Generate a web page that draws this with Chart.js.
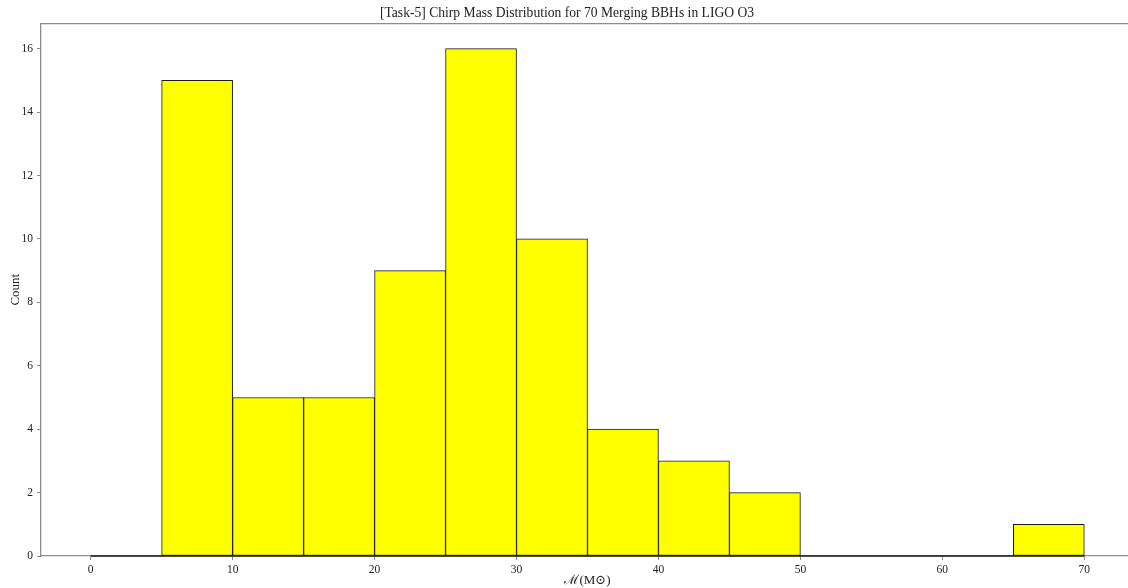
<!DOCTYPE html>
<html><head><meta charset="utf-8">
<script src="https://cdn.jsdelivr.net/npm/chart.js@4.4.1/dist/chart.umd.min.js"></script>
<style>html,body{margin:0;padding:0;overflow:hidden;background:#fff}#wrap{width:1134px;height:588px;position:relative}</style>
</head><body><div id="wrap"><canvas id="c"></canvas></div>
<script>
const binCenters = [2.5, 7.5, 12.5, 17.5, 22.5, 27.5, 32.5, 37.5, 42.5, 47.5, 52.5, 57.5, 62.5, 67.5];
const counts = [0, 15, 5, 5, 9, 16, 10, 4, 3, 2, 0, 0, 0, 1];
const histRange = [0, 70];
const xTicks = [0, 10, 20, 30, 40, 50, 60, 70];
const yTicks = [0, 2, 4, 6, 8, 10, 12, 14, 16];
const titleText = '[Task-5] Chirp Mass Distribution for 70 Merging BBHs in LIGO O3';
const xLabel = 'ℳ(M⊙)';
const yLabel = 'Count';

const FONT = '"Liberation Serif", "DejaVu Serif", serif';
const spine = '#8c8c8c';
Chart.defaults.font.family = FONT;
Chart.defaults.color = '#222';

new Chart(document.getElementById('c'), {
  type: 'bar',
  data: {
    datasets: [{
      data: binCenters.map((x, i) => ({x, y: counts[i]})),
      backgroundColor: '#ffff00',
      borderColor: '#1a1a1a',
      borderWidth: 1,
      borderSkipped: false,
      barPercentage: 1,
      categoryPercentage: 1,
      order: 2
    }, {
      type: 'line',
      data: histRange.map(x => ({x, y: 0})),
      borderColor: '#1a1a1a',
      borderWidth: 1.3,
      pointRadius: 0,
      clip: false,
      order: 1
    }]
  },
  options: {
    responsive: true,
    maintainAspectRatio: false,
    animation: false,
    layout: {padding: {left: 0, right: 0, top: 0, bottom: 0}},
    plugins: {
      legend: {display: false},
      tooltip: {enabled: false},
      title: {display: true, text: titleText, color: '#222', font: {size: 13.6, weight: 'normal'}, padding: {top: 5, bottom: 2}}
    },
    scales: {
      x: {
        type: 'linear', min: -3.5, max: 73.5, offset: false,
        afterBuildTicks: s => { s.ticks = xTicks.map(v => ({value: v})); },
        afterFit: s => { s.height = 32; },
        ticks: {font: {size: 11.5}, color: '#222', padding: 3, maxRotation: 0},
        grid: {display: true, offset: false, drawOnChartArea: false, drawTicks: true, tickLength: 4, color: spine},
        border: {display: true, color: spine, width: 1.3},
        title: {display: true, text: xLabel, font: {size: 13}, color: '#222', padding: {top: 0, bottom: 0}}
      },
      x2: {
        type: 'linear', position: 'top', min: -3.5, max: 73.5, offset: false,
        afterFit: s => { s.height = 0; },
        ticks: {display: false},
        grid: {display: false, offset: false},
        border: {display: true, color: spine, width: 1.3}
      },
      y: {
        min: 0, max: 16.8,
        afterBuildTicks: s => { s.ticks = yTicks.map(v => ({value: v})); },
        afterFit: s => { s.width = 41; },
        ticks: {font: {size: 11.5}, color: '#222', padding: 4},
        grid: {display: true, drawOnChartArea: false, drawTicks: true, tickLength: 4, color: spine},
        border: {display: true, color: spine, width: 1.3},
        title: {display: true, text: yLabel, font: {size: 13}, color: '#222', padding: {top: 8, bottom: 0}}
      }
    }
  }
});
</script></body></html>
